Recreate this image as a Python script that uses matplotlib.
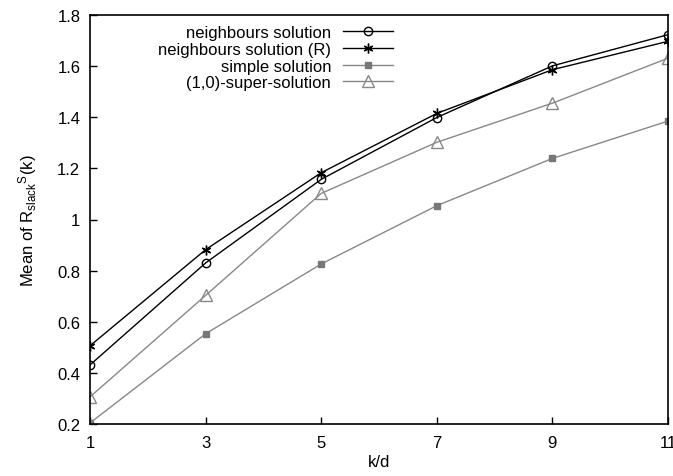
import matplotlib
matplotlib.use("Agg")
import matplotlib.pyplot as plt

plt.rcParams['font.family'] = ['Liberation Sans', 'DejaVu Sans']
plt.rcParams['mathtext.fontset'] = 'custom'
plt.rcParams['mathtext.rm'] = 'Liberation Sans'
plt.rcParams['mathtext.it'] = 'Liberation Sans'

# data
kd = [1, 3, 5, 7, 9, 11]
neigh = [0.431, 0.830, 1.157, 1.399, 1.601, 1.723]
neigh_r = [0.506, 0.882, 1.183, 1.415, 1.586, 1.697]
simple = [0.204, 0.553, 0.826, 1.054, 1.239, 1.385]
super_sol = [0.306, 0.703, 1.102, 1.302, 1.455, 1.631]

xticks = [1, 3, 5, 7, 9, 11]
yticks = [0.2, 0.4, 0.6, 0.8, 1.0, 1.2, 1.4, 1.6, 1.8]
ytick_labels = ['0.2', '0.4', '0.6', '0.8', '1', '1.2', '1.4', '1.6', '1.8']

gray = '#888888'

fig = plt.figure(figsize=(6.73, 4.77), dpi=100)
ax = fig.add_axes([90/673, 1 - 425/477, 578/673, 409/477])

ax.plot(kd, neigh, c='k', lw=1.0, marker='o', ms=6, mfc='none', mec='k',
        mew=1.0, label='neighbours solution')
ax.plot(kd, neigh_r, c='k', lw=1.0, marker=(6, 2, 0), ms=7, mec='k',
        mew=1.0, label='neighbours solution (R)')
ax.plot(kd, simple, c=gray, lw=1.0, marker='s', ms=5, mfc='#777777',
        mec='#777777', label='simple solution')
ax.plot(kd, super_sol, c=gray, lw=1.0, marker='^', ms=9, mfc='none',
        mec=gray, mew=1.0, label='(1,0)-super-solution')

ax.set_xlim(1, 11)
ax.set_ylim(0.2, 1.8)
ax.set_xticks(xticks)
ax.set_yticks(yticks)
ax.set_yticklabels(ytick_labels)
ax.tick_params(direction='in', length=5, width=1.0, labelsize=12,
               top=False, right=False)
ax.tick_params(axis='y', pad=7)
ax.tick_params(axis='x', pad=8)
for s in ax.spines.values():
    s.set_linewidth(1.2)

ax.set_xlabel('k/d', fontsize=12, labelpad=3)
ax.set_ylabel(r'Mean of R$_{\rm slack}$$^{\rm S}$(k)', fontsize=12,
              labelpad=13)

ax.legend(loc='upper right', bbox_to_anchor=(0.524, 0.975), frameon=False,
          markerfirst=False, fontsize=12, handlelength=3.0,
          handletextpad=0.7, labelspacing=0.1, borderpad=0,
          borderaxespad=0)

plt.savefig('out.png', dpi=100)
